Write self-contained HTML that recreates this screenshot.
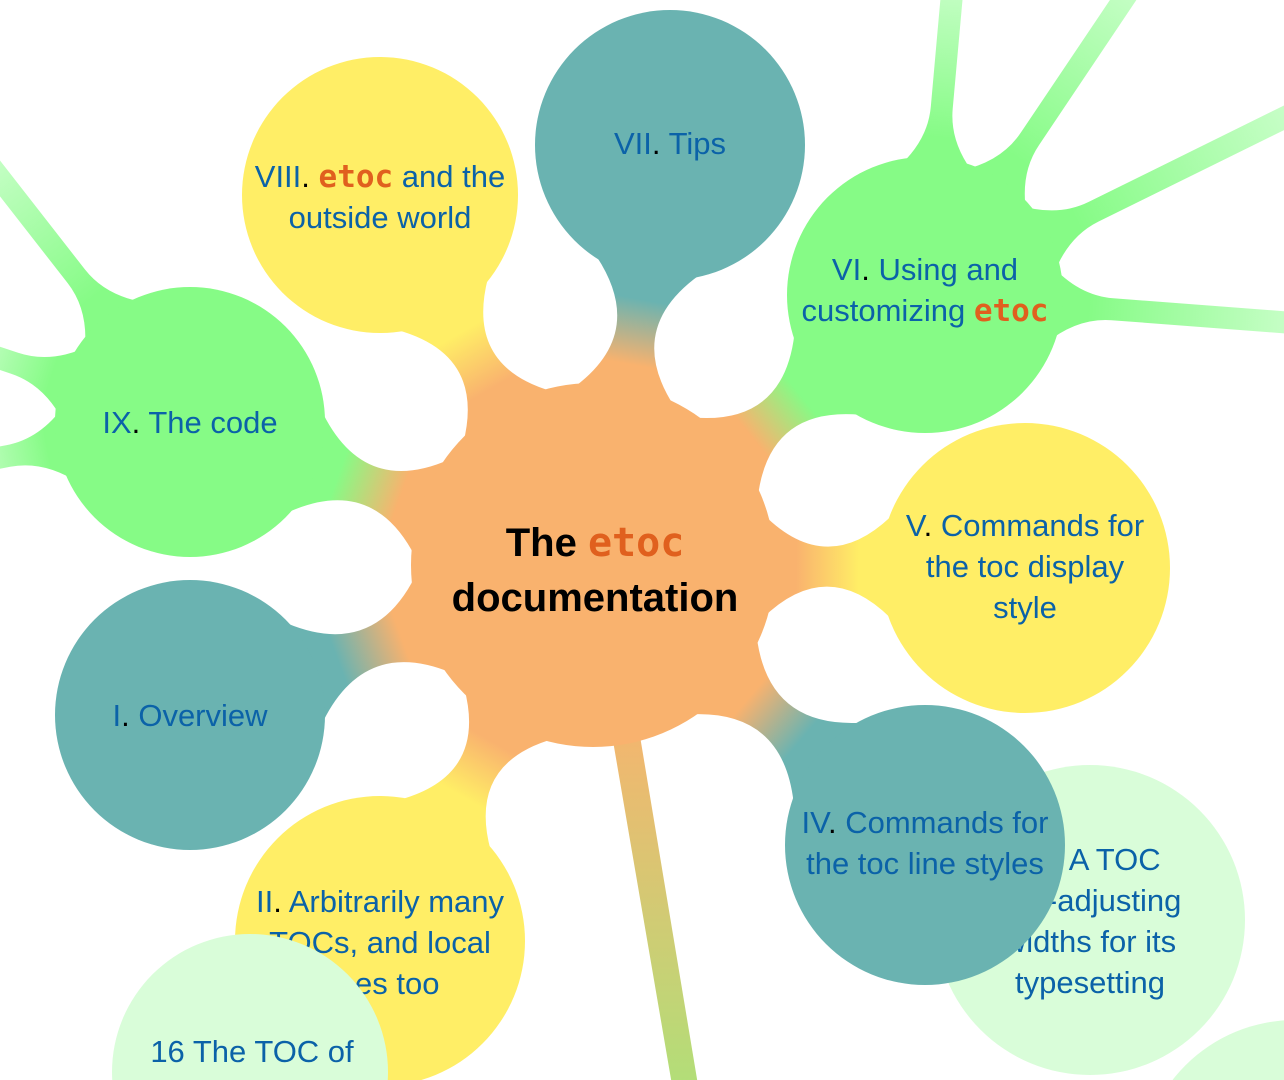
<!DOCTYPE html>
<html><head><meta charset="utf-8"><style>
html,body{margin:0;padding:0;background:#fff;width:1284px;height:1080px;overflow:hidden}
svg{display:block}
text{font-family:"Liberation Sans",sans-serif;font-size:31px;fill:#0B62A8;text-anchor:middle}
.e{font-family:"DejaVu Sans Mono","Liberation Mono",monospace;font-weight:bold;fill:#E0601E}
.k{fill:#000}
</style></head><body>
<svg id="s" width="1284" height="1080" viewBox="0 0 1284 1080" xmlns="http://www.w3.org/2000/svg">
<defs id="d">
<linearGradient id="gb" x1="0" y1="0" x2="0" y2="1"><stop offset="0" stop-color="#F9B26E"/><stop offset="1" stop-color="#B2DE78"/></linearGradient>
</defs>
<g id="br"></g>
<path d="M606 700 L634 700 L698 1085 L672 1085 Z" fill="url(#gb)"/>
<g id="nk"></g>
<circle cx="593" cy="565" r="182" fill="#F9B26E"/>
<circle cx="1090" cy="920" r="155" fill="#D9FDD9"/>
<circle cx="1295" cy="1175" r="155" fill="#D9FDD9"/>
<circle cx="670" cy="145" r="135" fill="#6AB3B1"/>
<circle cx="380" cy="195" r="138" fill="#FFEE66"/>
<circle cx="925" cy="295" r="138" fill="#86FB86"/>
<circle cx="190" cy="422" r="135" fill="#86FB86"/>
<circle cx="1025" cy="568" r="145" fill="#FFEE66"/>
<circle cx="190" cy="715" r="135" fill="#6AB3B1"/>
<text x="1094" y="870">15 A TOC</text>
<text x="1090" y="911">self-adjusting</text>
<text x="1090" y="952">widths for its</text>
<text x="1090" y="993">typesetting</text>
<circle cx="925" cy="845" r="140" fill="#6AB3B1"/>
<circle cx="380" cy="941" r="145" fill="#FFEE66"/>
<text x="380" y="912">II<tspan class="k">.</tspan> Arbitrarily many</text>
<text x="380" y="953">TOCs, and local</text>
<text x="380" y="994">ones too</text>
<circle cx="250" cy="1072" r="138" fill="#D9FDD9"/>
<text x="252" y="1062">16 The TOC of</text>
<text x="252" y="1103">TOCs</text>

<text x="670" y="154">VII<tspan class="k">.</tspan> Tips</text>
<text x="380" y="187">VIII<tspan class="k">.</tspan> <tspan class="e">etoc</tspan> and the</text>
<text x="380" y="228">outside world</text>
<text x="925" y="280">VI<tspan class="k">.</tspan> Using and</text>
<text x="925" y="321">customizing <tspan class="e">etoc</tspan></text>
<text x="190" y="433">IX<tspan class="k">.</tspan> The code</text>
<text x="595" y="556" style="font-size:40px;font-weight:bold;fill:#000">The <tspan class="e">etoc</tspan></text>
<text x="595" y="611" style="font-size:40px;font-weight:bold;fill:#000">documentation</text>
<text x="1025" y="536">V<tspan class="k">.</tspan> Commands for</text>
<text x="1025" y="577">the toc display</text>
<text x="1025" y="618">style</text>
<text x="190" y="726">I<tspan class="k">.</tspan> Overview</text>
<text x="925" y="833">IV<tspan class="k">.</tspan> Commands for</text>
<text x="925" y="874">the toc line styles</text>
</svg>
<script>
(function(){
var NS="http://www.w3.org/2000/svg",d=document.getElementById("d"),nk=document.getElementById("nk"),br=document.getElementById("br"),gi=0;
function grad(x1,y1,x2,y2,c1,c2,a,b){var g=document.createElementNS(NS,"linearGradient");var id="g"+(gi++);g.setAttribute("id",id);g.setAttribute("gradientUnits","userSpaceOnUse");g.setAttribute("x1",x1);g.setAttribute("y1",y1);g.setAttribute("x2",x2);g.setAttribute("y2",y2);
[[0,c1],[a,c1],[b,c2],[1,c2]].forEach(function(s){var st=document.createElementNS(NS,"stop");st.setAttribute("offset",s[0]);st.setAttribute("stop-color",s[1]);g.appendChild(st);});d.appendChild(g);return id;}
function neck(g,px,py,R,c1,cx,cy,r,c2,w,m){var dx=cx-px,dy=cy-py,L=Math.sqrt(dx*dx+dy*dy),ux=dx/L,uy=dy/L,nx=-uy,ny=ux;
var ax=px+ux*(R-12),ay=py+uy*(R-12),bx=cx-ux*(r-12),by=cy-uy*(r-12),mx=(ax+bx)/2,my=(ay+by)/2;var c=2*m-w;
function p(x,y,k){return (x+nx*k).toFixed(1)+" "+(y+ny*k).toFixed(1);}
var s="M"+p(ax,ay,w)+" Q"+p(mx,my,c)+" "+p(bx,by,w)+" L"+p(bx,by,-w)+" Q"+p(mx,my,-c)+" "+p(ax,ay,-w)+" Z";
var e=document.createElementNS(NS,"path");e.setAttribute("d",s);
e.setAttribute("fill","url(#"+grad(px+ux*R,py+uy*R,cx-ux*r,cy-uy*r,c1,c2,0.2,0.8)+")");g.appendChild(e);}
var P=[593,565,182,"#F9B26E"];
[[670,145,135,"#6AB3B1"],[380,195,138,"#FFEE66"],[925,295,138,"#86FB86"],[190,422,135,"#86FB86"],[1025,568,145,"#FFEE66"],[190,715,135,"#6AB3B1"],[925,845,140,"#6AB3B1"],[380,941,145,"#FFEE66"]].forEach(function(c){neck(nk,P[0],P[1],P[2],P[3],c[0],c[1],c[2],c[3],52,20);});
var G="#86FB86",LG="#C8FEC8";
[[925,295,138,955,-40],[925,295,138,1150,-40],[925,295,138,1320,100],[925,295,138,1320,325],[190,422,135,-30,140],[190,422,135,-40,345],[190,422,135,-40,465]].forEach(function(b){
var px=b[0],py=b[1],R=b[2],ex=b[3],ey=b[4];var dx=ex-px,dy=ey-py,L=Math.sqrt(dx*dx+dy*dy),ux=dx/L,uy=dy/L,nx=-uy,ny=ux;
var ax=px+ux*(R-15),ay=py+uy*(R-15),qx=px+ux*(R+50),qy=py+uy*(R+50);
function p(x,y,k){return (x+nx*k).toFixed(1)+" "+(y+ny*k).toFixed(1);}
var s="M"+p(ax,ay,40)+" Q"+p(px+ux*(R+15),py+uy*(R+15),11)+" "+p(qx,qy,11)+" L"+p(ex,ey,11)+" L"+p(ex,ey,-11)+" L"+p(qx,qy,-11)+" Q"+p(px+ux*(R+15),py+uy*(R+15),-11)+" "+p(ax,ay,-40)+" Z";
var e=document.createElementNS(NS,"path");e.setAttribute("d",s);e.setAttribute("fill","url(#"+grad(px+ux*R,py+uy*R,ex,ey,G,LG,0.1,0.9)+")");br.appendChild(e);});
})();
</script>
</body></html>
